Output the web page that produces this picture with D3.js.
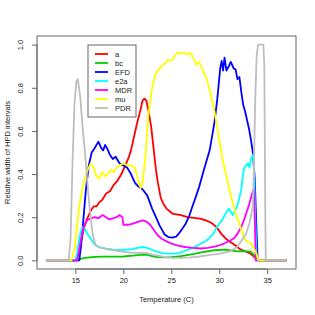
<!DOCTYPE html>
<html>
<head>
<meta charset="utf-8">
<script src="https://cdn.jsdelivr.net/npm/d3@7"></script>
<style>
  body { margin: 0; background: #fff; }
  svg text { font-family: "Liberation Sans", Arial, sans-serif; fill: #222; }
</style>
</head>
<body>
<svg id="chart" width="315" height="315"></svg>
<script>
// series names, colours, and [temperature, relative width] points
const seriesNames = ["a", "bc", "EFD", "e2a", "MDR", "mu", "PDR"];
const seriesColors = ["#ff0000", "#00cd00", "#0000ff", "#00ffff", "#ff00ff", "#ffff00", "#bebebe"];

const aPts = [[12,0],[15.1,0],[15.3,0.03],[15.6,0.09],[15.9,0.15],[16.2,0.19],[16.6,0.23],[16.9,0.25],[17.2,0.25],[17.5,0.27],[17.8,0.28],[18.2,0.31],[18.6,0.32],[19.0,0.35],[19.4,0.37],[19.8,0.4],[20.2,0.44],[20.5,0.47],[20.8,0.51],[21.1,0.57],[21.4,0.63],[21.8,0.7],[22.0,0.74],[22.2,0.75],[22.4,0.74],[22.6,0.7],[22.9,0.62],[23.15,0.52],[23.4,0.42],[23.6,0.36],[23.9,0.29],[24.2,0.26],[24.5,0.24],[25.1,0.217],[26.0,0.21],[26.7,0.2],[27.4,0.197],[28.1,0.192],[28.6,0.185],[29.0,0.178],[29.3,0.17],[29.7,0.155],[30.2,0.124],[30.7,0.1],[31.0,0.09],[31.4,0.078],[31.8,0.065],[32.1,0.054],[32.5,0.045],[32.8,0.04],[33.3,0.03],[33.8,0.01],[34.1,0],[37,0]];
const bcPts = [[12,0],[15.3,0],[15.6,0.008],[16.0,0.012],[17,0.016],[18,0.017],[19,0.017],[20,0.018],[21,0.022],[22,0.027],[22.5,0.025],[23.0,0.02],[23.5,0.015],[24.5,0.014],[25.0,0.015],[26,0.02],[27.4,0.03],[28.5,0.04],[29.5,0.047],[30.7,0.05],[31.3,0.045],[31.9,0.042],[32.5,0.043],[33.0,0.042],[33.3,0.04],[33.8,0.015],[34.1,0],[37,0]];
const efdPts = [[12,0],[15.4,0],[15.6,0.07],[15.8,0.17],[16.1,0.33],[16.4,0.44],[16.7,0.5],[17.0,0.52],[17.4,0.55],[17.7,0.52],[17.9,0.51],[18.1,0.535],[18.3,0.52],[18.6,0.49],[18.9,0.47],[19.2,0.48],[19.6,0.45],[20.0,0.44],[20.4,0.43],[20.8,0.4],[21.2,0.36],[21.5,0.345],[22.0,0.33],[22.5,0.3],[23.0,0.24],[23.4,0.2],[23.8,0.16],[24.3,0.12],[24.7,0.108],[25.1,0.105],[25.5,0.11],[25.8,0.125],[26.2,0.15],[26.5,0.17],[26.9,0.21],[27.2,0.25],[27.6,0.3],[27.9,0.34],[28.4,0.42],[29.0,0.51],[29.5,0.64],[29.8,0.75],[30.1,0.89],[30.25,0.925],[30.4,0.88],[30.55,0.94],[30.75,0.88],[31.0,0.9],[31.2,0.92],[31.5,0.89],[31.7,0.885],[31.9,0.84],[32.1,0.85],[32.3,0.78],[32.5,0.72],[32.7,0.69],[32.9,0.65],[33.1,0.61],[33.3,0.56],[33.5,0.5],[33.7,0.38],[33.85,0.18],[34.0,0],[37,0]];
const e2aPts = [[12,0],[15.0,0],[15.2,0.04],[15.4,0.1],[15.6,0.14],[15.8,0.155],[16.0,0.145],[16.3,0.12],[16.6,0.1],[16.9,0.08],[17.2,0.068],[17.6,0.06],[18.2,0.054],[19.0,0.05],[19.6,0.048],[20.3,0.05],[20.9,0.052],[21.5,0.058],[22.0,0.062],[22.5,0.058],[23.0,0.048],[23.5,0.04],[24.0,0.034],[24.6,0.031],[25.2,0.031],[25.7,0.034],[26.3,0.042],[27.0,0.054],[27.6,0.066],[28.1,0.078],[28.6,0.09],[29.0,0.105],[29.4,0.124],[29.7,0.15],[30.0,0.17],[30.35,0.19],[30.7,0.22],[31.0,0.24],[31.2,0.225],[31.4,0.21],[31.7,0.235],[31.9,0.256],[32.1,0.29],[32.3,0.33],[32.45,0.39],[32.6,0.43],[32.8,0.44],[33.0,0.45],[33.15,0.43],[33.3,0.47],[33.5,0.49],[33.6,0.45],[33.75,0.2],[33.9,0],[37,0]];
const mdrPts = [[12,0],[15.2,0],[15.4,0.05],[15.6,0.1],[15.9,0.16],[16.2,0.185],[16.6,0.195],[17.0,0.2],[17.4,0.195],[17.85,0.21],[18.2,0.2],[18.5,0.19],[18.9,0.195],[19.3,0.2],[19.6,0.21],[19.9,0.2],[20.0,0.165],[20.5,0.165],[21.0,0.17],[21.5,0.178],[22.0,0.185],[22.4,0.18],[22.8,0.165],[23.2,0.14],[23.6,0.115],[24.0,0.1],[24.5,0.088],[25.0,0.078],[25.7,0.068],[26.4,0.062],[27.2,0.058],[28.1,0.055],[28.8,0.058],[29.5,0.064],[30.0,0.07],[30.5,0.078],[31.2,0.093],[31.6,0.105],[31.9,0.124],[32.3,0.155],[32.6,0.19],[32.9,0.23],[33.1,0.256],[33.3,0.29],[33.5,0.32],[33.6,0.33],[33.7,0.2],[33.8,0],[37,0]];
const muPts = [[12,0],[14.6,0],[14.9,0.05],[15.1,0.13],[15.4,0.25],[15.7,0.33],[16.0,0.38],[16.3,0.42],[16.6,0.45],[16.9,0.43],[17.2,0.39],[17.5,0.38],[17.8,0.41],[18.1,0.39],[18.4,0.4],[18.7,0.42],[19.0,0.41],[19.3,0.43],[19.6,0.44],[20.0,0.45],[20.4,0.44],[20.8,0.44],[21.2,0.43],[21.5,0.38],[21.8,0.335],[22.0,0.36],[22.3,0.48],[22.6,0.67],[23.0,0.8],[23.4,0.87],[23.8,0.89],[24.1,0.905],[24.4,0.915],[24.6,0.93],[24.9,0.925],[25.1,0.93],[25.4,0.95],[25.7,0.964],[26.0,0.958],[26.3,0.962],[26.6,0.956],[26.9,0.963],[27.1,0.953],[27.4,0.93],[27.6,0.907],[27.9,0.92],[28.1,0.9],[28.4,0.87],[28.7,0.84],[29.0,0.79],[29.5,0.69],[30.0,0.56],[30.35,0.465],[30.7,0.4],[31.2,0.3],[31.7,0.22],[32.1,0.17],[32.6,0.1],[33.0,0.085],[33.3,0.08],[33.8,0.04],[34.1,0],[37,0]];
const pdrPts = [[12,0],[14.3,0],[14.5,0.1],[14.7,0.45],[14.9,0.72],[15.1,0.83],[15.25,0.84],[15.5,0.76],[15.75,0.62],[16.0,0.5],[16.4,0.28],[16.8,0.12],[17.1,0.07],[17.5,0.06],[18.5,0.05],[20,0.04],[21,0.035],[22,0.035],[22.5,0.033],[23,0.027],[24,0.018],[25,0.012],[26,0.012],[27,0.014],[28,0.018],[29,0.025],[30,0.03],[31,0.04],[31.8,0.06],[32.3,0.09],[32.8,0.125],[33.2,0.18],[33.5,0.25],[33.6,0.4],[33.75,0.75],[33.9,0.95],[34.05,1.0],[34.6,1.0],[34.7,0.9],[34.8,0.2],[34.85,0],[37,0]];
const seriesPts = [aPts, bcPts, efdPts, e2aPts, mdrPts, muPts, pdrPts];

const xTicks = [15, 20, 25, 30, 35];
const yTicks = [0, 0.2, 0.4, 0.6, 0.8, 1.0];

const svg = d3.select("#chart");
const box = { left: 37, right: 296, top: 36, bottom: 269 };

// R style: data range plus 4% on each side
const x = d3.scaleLinear().domain([11, 38]).range([box.left, box.right]);
const y = d3.scaleLinear().domain([-0.04, 1.04]).range([box.bottom, box.top]);

const line = d3.line().x(d => x(d[0])).y(d => y(d[1]));

svg.append("g")
  .selectAll("path")
  .data(seriesPts)
  .join("path")
  .attr("d", line)
  .attr("fill", "none")
  .attr("stroke", (d, i) => seriesColors[i])
  .attr("stroke-width", 1.8)
  .attr("stroke-linejoin", "round");

// plot box
svg.append("rect")
  .attr("x", box.left).attr("y", box.top)
  .attr("width", box.right - box.left).attr("height", box.bottom - box.top)
  .attr("fill", "none").attr("stroke", "#666").attr("stroke-width", 1);

// axes
const xAxis = d3.axisBottom(x).tickValues(xTicks).tickSize(5).tickPadding(4).tickFormat(d3.format("d"));
const gx = svg.append("g").attr("transform", `translate(0,${box.bottom})`).call(xAxis);
gx.select(".domain").attr("d", `M${x(15)},0H${x(35)}`).attr("stroke", "#666");
gx.selectAll(".tick line").attr("stroke", "#666");
gx.selectAll("text").attr("font-size", 7.5).attr("font-family", "Liberation Sans, Arial, sans-serif").attr("fill", "#222");

const yAxis = d3.axisLeft(y).tickValues(yTicks).tickSize(5).tickFormat(d3.format(".1f"));
const gy = svg.append("g").attr("transform", `translate(${box.left},0)`).call(yAxis);
gy.select(".domain").attr("d", `M0,${y(0)}V${y(1)}`).attr("stroke", "#666");
gy.selectAll(".tick line").attr("stroke", "#666");
gy.selectAll("text")
  .attr("font-size", 7.5).attr("font-family", "Liberation Sans, Arial, sans-serif").attr("fill", "#222")
  .attr("x", 0).attr("dy", null)
  .attr("text-anchor", "middle")
  .attr("transform", "translate(-14,0) rotate(-90)");

// axis titles
svg.append("text")
  .attr("x", (box.left + box.right) / 2).attr("y", 302)
  .attr("text-anchor", "middle").attr("font-size", 7.5)
  .text("Temperature (C)");
svg.append("text")
  .attr("transform", `translate(10,${(box.top + box.bottom) / 2}) rotate(-90)`)
  .attr("text-anchor", "middle").attr("font-size", 7.5)
  .text("Relative width of HPD intervals");

// legend
const lg = svg.append("g").attr("transform", "translate(88,45)");
lg.append("rect").attr("width", 48).attr("height", 72)
  .attr("fill", "#fff").attr("stroke", "#666").attr("stroke-width", 1);
const rows = lg.selectAll("g.row").data(seriesNames).join("g")
  .attr("class", "row")
  .attr("transform", (d, i) => `translate(0,${9 + i * 9})`);
rows.append("line").attr("x1", 7).attr("x2", 20)
  .attr("stroke", (d, i) => seriesColors[i]).attr("stroke-width", 1.8);
rows.append("text").attr("x", 27).attr("dy", "0.35em")
  .attr("font-size", 7.5).text(d => d);
</script>
</body>
</html>
